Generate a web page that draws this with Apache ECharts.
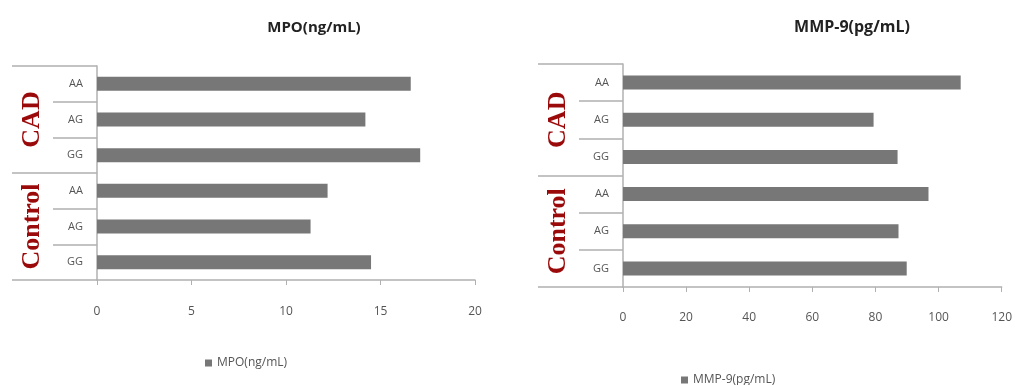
<!DOCTYPE html>
<html>
<head>
<meta charset="utf-8">
<script src="https://cdn.jsdelivr.net/npm/echarts@6/dist/echarts.min.js"></script>
<style>html,body{margin:0;padding:0;background:#fff;}#c{width:1015px;height:385px;}</style>
</head>
<body>
<div id="c"></div>
<script>
// Data (bottom to top within each group)
var groups = ['Control', 'CAD'];
var genotypes = ['GG', 'AG', 'AA'];
var mpoControl = [14.5, 11.3, 12.2];
var mpoCAD = [17.1, 14.2, 16.6];
var mmpControl = [89.9, 87.3, 96.8];
var mmpCAD = [87.0, 79.4, 107.0];
var mpoTicks = [0, 5, 10, 15, 20];
var mmpTicks = [0, 20, 40, 60, 80, 100, 120];
var mpoName = 'MPO(ng/mL)';
var mmpName = 'MMP-9(pg/mL)';

var cats = genotypes.concat(genotypes);
var mpoData = mpoControl.concat(mpoCAD);
var mmpData = mmpControl.concat(mmpCAD);

var lineColor = '#b0b0b0';
var barColor = '#777777';
var txtFont = '"Open Sans", Lato, sans-serif';

function valueAxis(gi, ticks, margin) {
  return {
    type: 'value', gridIndex: gi,
    min: ticks[0], max: ticks[ticks.length - 1], interval: ticks[1] - ticks[0],
    axisLine: { show: true, lineStyle: { color: lineColor, width: 1.5 } },
    axisTick: { show: true, length: 5, lineStyle: { color: lineColor } },
    splitLine: { show: false },
    axisLabel: { color: '#555', fontSize: 12, fontFamily: txtFont, margin: margin }
  };
}
function genoAxis(gi) {
  return {
    type: 'category', gridIndex: gi, data: cats, position: 'left',
    axisLine: { show: true, lineStyle: { color: lineColor, width: 1.5 } },
    axisTick: { show: true, length: 44, lineStyle: { color: lineColor, width: 1.5 } },
    axisLabel: { interval: 0, color: '#555', fontSize: 11, fontFamily: txtFont, margin: 14 }
  };
}
function groupAxis(gi) {
  return {
    type: 'category', gridIndex: gi, data: groups, position: 'left',
    axisLine: { show: false },
    axisTick: { show: true, interval: 0, length: 85, lineStyle: { color: lineColor, width: 1.5 } },
    axisLabel: { interval: 0, hideOverlap: false, rotate: 90, margin: 52, color: '#9b0a0a',
      fontSize: 26, fontWeight: 'bold',
      fontFamily: '"Liberation Serif", "DejaVu Serif", serif' }
  };
}

var chart = echarts.init(document.getElementById('c'));
chart.setOption({
  animation: false,
  title: [
    { text: mpoName, left: 309, top: 15, textAlign: 'center',
      textStyle: { fontSize: 15, fontWeight: 'bold', color: '#222', fontFamily: txtFont } },
    { text: mmpName, left: 847, top: 14, textAlign: 'center',
      textStyle: { fontSize: 16, fontWeight: 'bold', color: '#222', fontFamily: txtFont } }
  ],
  legend: [
    { data: [mpoName], left: 200, top: 352, itemWidth: 7, itemHeight: 7, itemGap: 4,
      icon: 'rect', textStyle: { color: '#555', fontSize: 12, fontFamily: txtFont } },
    { data: [mmpName], left: 676, top: 369, itemWidth: 7, itemHeight: 7, itemGap: 4,
      icon: 'rect', textStyle: { color: '#555', fontSize: 12, fontFamily: txtFont } }
  ],
  grid: [
    { left: 97, right: 540, top: 66, bottom: 105 },
    { left: 623, right: 12, top: 64, bottom: 98 }
  ],
  xAxis: [ valueAxis(0, mpoTicks, 26), valueAxis(1, mmpTicks, 25) ],
  yAxis: [ genoAxis(0), groupAxis(0), genoAxis(1), groupAxis(1) ],
  series: [
    { name: mpoName, type: 'bar', xAxisIndex: 0, yAxisIndex: 0, data: mpoData,
      barWidth: 14, itemStyle: { color: barColor } },
    { name: mmpName, type: 'bar', xAxisIndex: 1, yAxisIndex: 2, data: mmpData,
      barWidth: 14, itemStyle: { color: barColor } }
  ]
});
</script>
</body>
</html>
